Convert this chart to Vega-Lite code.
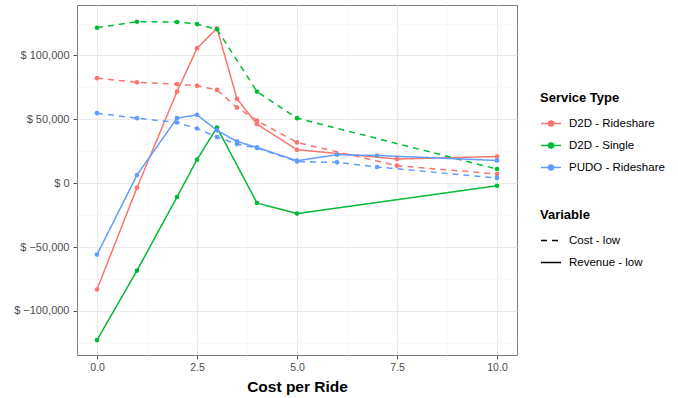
{
  "$schema": "https://vega.github.io/schema/vega-lite/v6.json",
  "width": 440,
  "height": 350,
  "autosize": {"type": "none"},
  "padding": {"left": 77, "top": 5, "right": 161, "bottom": 43},
  "background": "white",
  "config": {
    "view": {"stroke": "#7F7F7F", "strokeWidth": 1},
    "font": "Liberation Sans"
  },
  "data": {
    "values": [
      {"x": 0, "y": -83200, "service": "D2D - Rideshare", "variable": "Revenue - low"},
      {"x": 1, "y": -3500, "service": "D2D - Rideshare", "variable": "Revenue - low"},
      {"x": 2, "y": 71700, "service": "D2D - Rideshare", "variable": "Revenue - low"},
      {"x": 2.5, "y": 105600, "service": "D2D - Rideshare", "variable": "Revenue - low"},
      {"x": 3, "y": 121200, "service": "D2D - Rideshare", "variable": "Revenue - low"},
      {"x": 3.5, "y": 66000, "service": "D2D - Rideshare", "variable": "Revenue - low"},
      {"x": 4, "y": 46200, "service": "D2D - Rideshare", "variable": "Revenue - low"},
      {"x": 5, "y": 26200, "service": "D2D - Rideshare", "variable": "Revenue - low"},
      {"x": 7.5, "y": 18900, "service": "D2D - Rideshare", "variable": "Revenue - low"},
      {"x": 10, "y": 20900, "service": "D2D - Rideshare", "variable": "Revenue - low"},
      {"x": 0, "y": 82200, "service": "D2D - Rideshare", "variable": "Cost - low"},
      {"x": 1, "y": 79000, "service": "D2D - Rideshare", "variable": "Cost - low"},
      {"x": 2, "y": 77500, "service": "D2D - Rideshare", "variable": "Cost - low"},
      {"x": 2.5, "y": 76200, "service": "D2D - Rideshare", "variable": "Cost - low"},
      {"x": 3, "y": 73000, "service": "D2D - Rideshare", "variable": "Cost - low"},
      {"x": 3.5, "y": 59200, "service": "D2D - Rideshare", "variable": "Cost - low"},
      {"x": 4, "y": 49000, "service": "D2D - Rideshare", "variable": "Cost - low"},
      {"x": 5, "y": 31900, "service": "D2D - Rideshare", "variable": "Cost - low"},
      {"x": 7.5, "y": 13700, "service": "D2D - Rideshare", "variable": "Cost - low"},
      {"x": 10, "y": 7200, "service": "D2D - Rideshare", "variable": "Cost - low"},
      {"x": 0, "y": -122800, "service": "D2D - Single", "variable": "Revenue - low"},
      {"x": 1, "y": -68400, "service": "D2D - Single", "variable": "Revenue - low"},
      {"x": 2, "y": -10800, "service": "D2D - Single", "variable": "Revenue - low"},
      {"x": 2.5, "y": 18400, "service": "D2D - Single", "variable": "Revenue - low"},
      {"x": 3, "y": 43600, "service": "D2D - Single", "variable": "Revenue - low"},
      {"x": 4, "y": -15500, "service": "D2D - Single", "variable": "Revenue - low"},
      {"x": 5, "y": -23800, "service": "D2D - Single", "variable": "Revenue - low"},
      {"x": 10, "y": -2000, "service": "D2D - Single", "variable": "Revenue - low"},
      {"x": 0, "y": 121700, "service": "D2D - Single", "variable": "Cost - low"},
      {"x": 1, "y": 126400, "service": "D2D - Single", "variable": "Cost - low"},
      {"x": 2, "y": 126200, "service": "D2D - Single", "variable": "Cost - low"},
      {"x": 2.5, "y": 124600, "service": "D2D - Single", "variable": "Cost - low"},
      {"x": 3, "y": 120500, "service": "D2D - Single", "variable": "Cost - low"},
      {"x": 4, "y": 71700, "service": "D2D - Single", "variable": "Cost - low"},
      {"x": 5, "y": 50900, "service": "D2D - Single", "variable": "Cost - low"},
      {"x": 10, "y": 11100, "service": "D2D - Single", "variable": "Cost - low"},
      {"x": 0, "y": -55900, "service": "PUDO - Rideshare", "variable": "Revenue - low"},
      {"x": 1, "y": 6400, "service": "PUDO - Rideshare", "variable": "Revenue - low"},
      {"x": 2, "y": 50900, "service": "PUDO - Rideshare", "variable": "Revenue - low"},
      {"x": 2.5, "y": 53500, "service": "PUDO - Rideshare", "variable": "Revenue - low"},
      {"x": 3, "y": 41300, "service": "PUDO - Rideshare", "variable": "Revenue - low"},
      {"x": 3.5, "y": 32700, "service": "PUDO - Rideshare", "variable": "Revenue - low"},
      {"x": 4, "y": 28000, "service": "PUDO - Rideshare", "variable": "Revenue - low"},
      {"x": 5, "y": 17600, "service": "PUDO - Rideshare", "variable": "Revenue - low"},
      {"x": 6, "y": 22300, "service": "PUDO - Rideshare", "variable": "Revenue - low"},
      {"x": 7, "y": 21700, "service": "PUDO - Rideshare", "variable": "Revenue - low"},
      {"x": 10, "y": 17800, "service": "PUDO - Rideshare", "variable": "Revenue - low"},
      {"x": 0, "y": 54800, "service": "PUDO - Rideshare", "variable": "Cost - low"},
      {"x": 1, "y": 50900, "service": "PUDO - Rideshare", "variable": "Cost - low"},
      {"x": 2, "y": 47500, "service": "PUDO - Rideshare", "variable": "Cost - low"},
      {"x": 2.5, "y": 42800, "service": "PUDO - Rideshare", "variable": "Cost - low"},
      {"x": 3, "y": 36100, "service": "PUDO - Rideshare", "variable": "Cost - low"},
      {"x": 3.5, "y": 30600, "service": "PUDO - Rideshare", "variable": "Cost - low"},
      {"x": 4, "y": 27500, "service": "PUDO - Rideshare", "variable": "Cost - low"},
      {"x": 5, "y": 17000, "service": "PUDO - Rideshare", "variable": "Cost - low"},
      {"x": 6, "y": 16300, "service": "PUDO - Rideshare", "variable": "Cost - low"},
      {"x": 7, "y": 12700, "service": "PUDO - Rideshare", "variable": "Cost - low"},
      {"x": 10, "y": 4100, "service": "PUDO - Rideshare", "variable": "Cost - low"}
    ]
  },
  "encoding": {
    "x": {
      "field": "x", "type": "quantitative",
      "scale": {"domain": [-0.5, 10.5], "nice": false, "zero": false},
      "axis": {
        "title": "Cost per Ride",
        "values": [0, 1.25, 2.5, 3.75, 5, 6.25, 7.5, 8.75, 10],
        "labelExpr": "datum.value % 2.5 == 0 ? format(datum.value, '.1f') : ''",
        "gridColor": {"condition": {"test": "datum.value % 2.5 != 0", "value": "#F5F5F5"}, "value": "#EBEBEB"},
        "gridWidth": {"condition": {"test": "datum.value % 2.5 != 0", "value": 0.6}, "value": 1.1},
        "tickOpacity": {"condition": {"test": "datum.value % 2.5 != 0", "value": 0}, "value": 1},
        "domain": false,
        "tickColor": "#555555", "tickSize": 4,
        "labelColor": "#4D4D4D", "labelFontSize": 10.5, "labelPadding": 3, "labelFont": "Liberation Sans",
        "titleFontSize": 15.5, "titleFontWeight": "bold", "titleColor": "#000000", "titlePadding": 7, "titleFont": "Liberation Sans"
      }
    },
    "y": {
      "field": "y", "type": "quantitative",
      "scale": {"domain": [-134500, 139500], "nice": false, "zero": false},
      "axis": {
        "title": null,
        "values": [-125000, -100000, -75000, -50000, -25000, 0, 25000, 50000, 75000, 100000, 125000],
        "labelExpr": "datum.value % 50000 == 0 ? '$ ' + format(datum.value, ',') : ''",
        "gridColor": {"condition": {"test": "datum.value % 50000 != 0", "value": "#F5F5F5"}, "value": "#EBEBEB"},
        "gridWidth": {"condition": {"test": "datum.value % 50000 != 0", "value": 0.6}, "value": 1.1},
        "tickOpacity": {"condition": {"test": "datum.value % 50000 != 0", "value": 0}, "value": 1},
        "domain": false,
        "tickColor": "#555555", "tickSize": 4,
        "labelColor": "#4D4D4D", "labelFontSize": 11, "labelPadding": 4, "labelFont": "Liberation Sans"
      }
    },
    "color": {
      "field": "service", "type": "nominal",
      "scale": {"domain": ["D2D - Rideshare", "D2D - Single", "PUDO - Rideshare"], "range": ["#F8766D", "#00BA38", "#619CFF"]},
      "legend": {
        "title": "Service Type",
        "orient": "none", "legendX": 463, "legendY": 87,
        "symbolType": "M-1,0H1M-0.25,0A0.25,0.25,0,1,0,0.25,0A0.25,0.25,0,1,0,-0.25,0Z",
        "symbolSize": 400, "symbolStrokeWidth": 1.5,
        "labelFontSize": 11.5, "labelColor": "#000000", "labelOffset": 7, "labelFont": "Liberation Sans",
        "titleFontSize": 13, "titleFontWeight": "bold", "titleColor": "#000000", "titlePadding": 7.5, "titleFont": "Liberation Sans",
        "rowPadding": 5
      }
    }
  },
  "layer": [
    {
      "mark": {"type": "line", "strokeWidth": 1.5},
      "encoding": {
        "strokeDash": {
          "field": "variable", "type": "nominal",
          "scale": {"domain": ["Cost - low", "Revenue - low"], "range": [[6, 5], [1, 0]]},
          "legend": {
            "title": "Variable",
            "orient": "none", "legendX": 463, "legendY": 204,
            "symbolType": "stroke", "symbolSize": 400, "symbolStrokeWidth": 1.5, "symbolStrokeColor": "#000000",
            "labelFontSize": 11.5, "labelColor": "#000000", "labelOffset": 7, "labelFont": "Liberation Sans",
            "titleFontSize": 13, "titleFontWeight": "bold", "titleColor": "#000000", "titlePadding": 7.5, "titleFont": "Liberation Sans",
            "rowPadding": 5
          }
        }
      }
    },
    {
      "mark": {"type": "point", "filled": true, "size": 22, "opacity": 1}
    }
  ]
}
